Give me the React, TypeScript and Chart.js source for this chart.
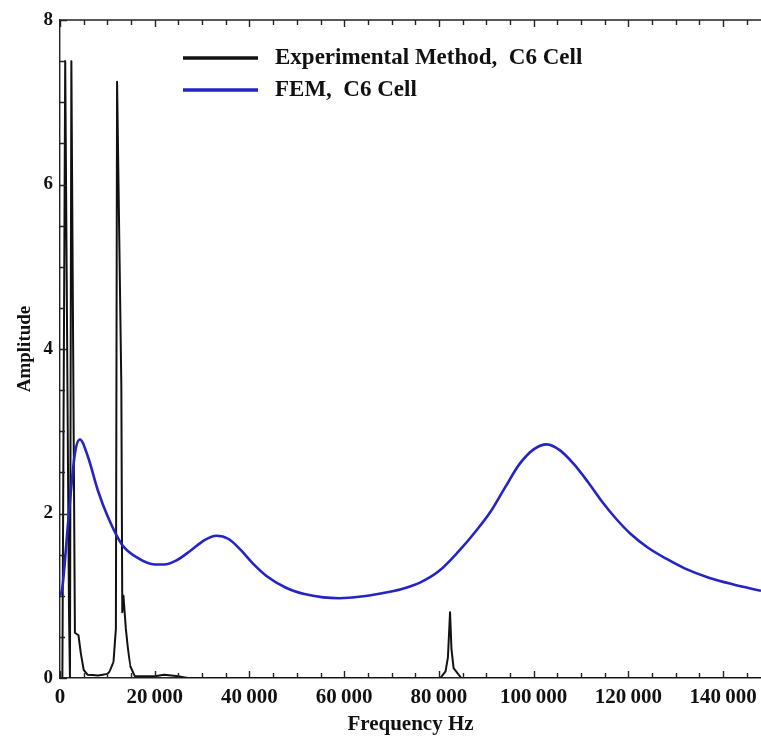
import React, { useEffect, useRef } from 'react';
import { Chart, registerables } from 'chart.js';

Chart.register(...registerables);

const SERIF = '"Liberation Serif", "Times New Roman", serif';

// Experimental spectrum (Hz, amplitude)
const expFreq = [
  0, 500, 1100, 1900, 2100, 2400, 3150, 3900, 4400, 5000, 5800, 8000, 10000,
  10500, 11300, 11800, 12050, 12950, 13150, 13400, 13900, 14300, 14800, 15800,
  20000, 22000, 25000, 27000, 80300, 81400, 81900, 82350, 82650, 83100, 84700, 148000,
];
const expAmp = [
  0, 0, 7.5, 0.8, 0, 7.5, 0.55, 0.52, 0.3, 0.1, 0.04, 0.03, 0.05,
  0.08, 0.2, 0.6, 7.25, 3.55, 0.8, 1.0, 0.6, 0.38, 0.15, 0.02,
  0.02, 0.04, 0.02, 0, 0, 0.08, 0.25, 0.8, 0.35, 0.12, 0, 0,
];

// FEM response (Hz, amplitude)
const femFreq = [
  0, 500, 1700, 3150, 4200, 5900, 8000, 10100, 13100, 16400, 20000, 22000,
  24600, 27600, 30600, 33000, 35600, 38100, 40600, 43600, 47600, 51600, 55600,
  59000, 63600, 68000, 72000, 76000, 80000, 84000, 88000, 91000, 94000, 97000,
  100000, 102800, 105500, 108500, 111500, 114500, 117500, 120500, 124000, 128000,
  132000, 137000, 142000, 148000,
];
const femAmp = [
  1.0, 1.1, 1.88, 2.73, 2.9, 2.69, 2.28, 1.96, 1.62, 1.46, 1.38, 1.38,
  1.43, 1.55, 1.68, 1.73, 1.69, 1.56, 1.4, 1.24, 1.1, 1.02, 0.98,
  0.97, 0.99, 1.03, 1.08, 1.16, 1.3, 1.53, 1.8, 2.03, 2.32, 2.6,
  2.78, 2.84, 2.77, 2.6, 2.38, 2.14, 1.93, 1.75, 1.59, 1.45,
  1.33, 1.22, 1.14, 1.06,
];

const xTickValues = [0, 20000, 40000, 60000, 80000, 100000, 120000, 140000];
const yTickValues = [0, 2, 4, 6, 8];
const seriesNames = ['Experimental Method,  C6 Cell', 'FEM,  C6 Cell'];
const seriesColors = ['#111111', '#2424c4'];

const formatHz = (v: number) =>
  v >= 1000 ? `${Math.floor(v / 1000)}\u2009${String(v % 1000).padStart(3, '0')}` : String(v);

// Inward tick marks on the frame plus the in-plot legend
const framePlugin = {
  id: 'frameTicks',
  afterDatasetsDraw(chart: any) {
    const { ctx, chartArea, scales } = chart;
    const { left, right, top, bottom } = chartArea;
    const x = scales.x;
    const y = scales.y;
    ctx.save();
    ctx.strokeStyle = '#222';
    ctx.lineWidth = 1.4;
    ctx.beginPath();
    ctx.moveTo(left, top);
    ctx.lineTo(right, top);
    for (let v = 0; v <= x.max; v += 5000) {
      const px = Math.round(x.getPixelForValue(v)) + 0.5;
      const len = v % 20000 === 0 ? 7 : 5;
      ctx.moveTo(px, bottom);
      ctx.lineTo(px, bottom - len);
      ctx.moveTo(px, top);
      ctx.lineTo(px, top + len);
    }
    for (let v = 0; v <= y.max; v += 0.5) {
      const py = Math.round(y.getPixelForValue(v)) + 0.5;
      const len = v % 2 === 0 ? 7 : 5;
      ctx.moveTo(left, py);
      ctx.lineTo(left + len, py);
    }
    ctx.stroke();

    // legend
    const rows = [58, 90];
    chart.data.datasets.forEach((ds: any) => {
      const idx = seriesNames.indexOf(ds.label);
      const ry = rows[idx];
      ctx.strokeStyle = ds.borderColor;
      ctx.lineWidth = 3.5;
      ctx.beginPath();
      ctx.moveTo(183, ry);
      ctx.lineTo(258, ry);
      ctx.stroke();
      ctx.fillStyle = '#111';
      ctx.font = `bold 23px ${SERIF}`;
      ctx.textAlign = 'left';
      ctx.textBaseline = 'middle';
      ctx.fillText(ds.label, 275, ry);
    });
    ctx.restore();
  },
};

export default function App() {
  const canvasRef = useRef<HTMLCanvasElement | null>(null);

  useEffect(() => {
    const canvas = canvasRef.current;
    if (!canvas) return;
    const chart = new Chart(canvas, {
      type: 'line',
      data: {
        datasets: [
          {
            label: seriesNames[0],
            data: expFreq.map((f, i) => ({ x: f, y: expAmp[i] })),
            borderColor: seriesColors[0],
            borderWidth: 2,
            borderJoinStyle: 'round',
            pointRadius: 0,
            // a near-zero tension keeps straight segments but avoids the column-merging fast path
            tension: 0.000001,
            order: 1,
          },
          {
            label: seriesNames[1],
            data: femFreq.map((f, i) => ({ x: f, y: femAmp[i] })),
            borderColor: seriesColors[1],
            borderWidth: 2.6,
            borderJoinStyle: 'round',
            pointRadius: 0,
            cubicInterpolationMode: 'monotone',
            order: 0,
          },
        ],
      },
      options: {
        responsive: false,
        animation: false,
        layout: { padding: { top: 20, right: 0, left: 0, bottom: 0 } },
        plugins: {
          legend: { display: false },
          tooltip: { enabled: false },
        },
        scales: {
          x: {
            type: 'linear',
            min: 0,
            max: 148000,
            afterBuildTicks: (scale: any) => {
              scale.ticks = xTickValues.map((v) => ({ value: v }));
            },
            afterFit: (scale: any) => {
              scale.height = 62;
              scale.paddingRight = 0;
            },
            grid: { display: false, drawTicks: false },
            border: { display: true, color: '#222', width: 1.4 },
            ticks: {
              color: '#111',
              padding: 7,
              maxRotation: 0,
              autoSkip: false,
              font: { family: SERIF, size: 21, weight: 'bold' },
              callback: (v: any) => formatHz(Number(v)),
            },
            title: {
              display: true,
              text: 'Frequency Hz',
              color: '#111',
              font: { family: SERIF, size: 21, weight: 'bold' },
              padding: { top: 0, bottom: 3 },
            },
          },
          y: {
            type: 'linear',
            min: 0,
            max: 8,
            afterBuildTicks: (scale: any) => {
              scale.ticks = yTickValues.map((v) => ({ value: v }));
            },
            afterFit: (scale: any) => {
              scale.width = 60;
            },
            grid: { display: false, drawTicks: false },
            border: { display: true, color: '#222', width: 1.4 },
            ticks: {
              color: '#111',
              padding: 7,
              autoSkip: false,
              font: { family: SERIF, size: 19, weight: 'bold' },
            },
            title: {
              display: true,
              text: 'Amplitude',
              color: '#111',
              font: { family: SERIF, size: 19, weight: 'bold' },
              padding: { top: 14, bottom: 0 },
            },
          },
        },
      } as any,
      plugins: [framePlugin],
    });
    return () => chart.destroy();
  }, []);

  return (
    <div style={{ position: 'fixed', left: 0, top: 0, width: 761, height: 740, background: '#fff' }}>
      <canvas ref={canvasRef} width={761} height={740} style={{ width: 761, height: 740, display: 'block' }} />
    </div>
  );
}
